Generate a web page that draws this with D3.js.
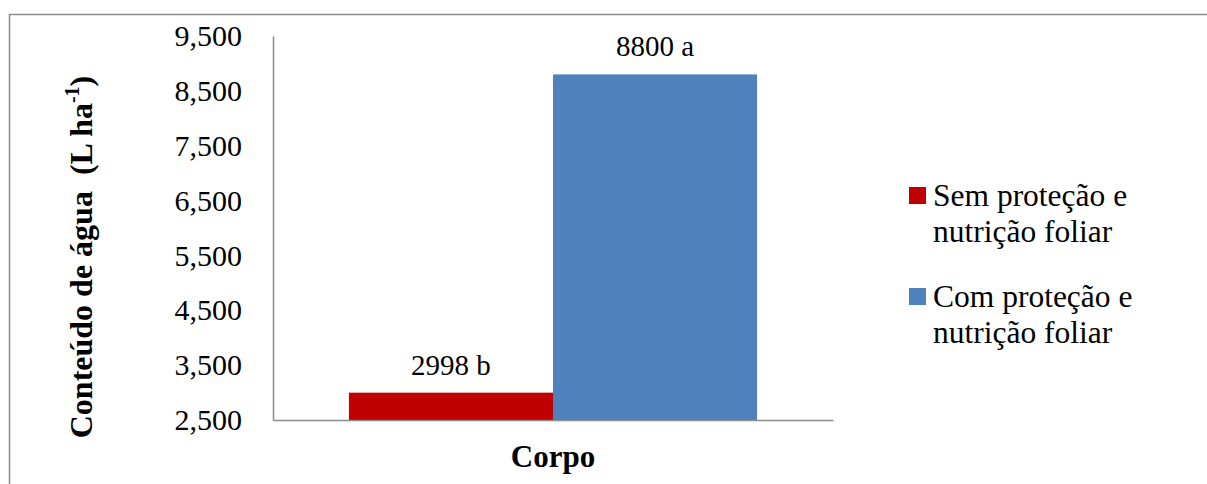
<!DOCTYPE html>
<html>
<head>
<meta charset="utf-8">
<script src="https://cdn.jsdelivr.net/npm/d3@7"></script>
<style>
  html, body { margin: 0; padding: 0; background: #fff; }
  svg { display: block; }
</style>
</head>
<body>
<svg id="chart" width="1207" height="484" font-family="'Liberation Serif', 'Times New Roman', serif"></svg>
<script>
// Water content by treatment (L ha-1)
const categories = ["Corpo"];
const seriesNames = ["Sem proteção e nutrição foliar", "Com proteção e nutrição foliar"];
const seriesLegendLines = [["Sem proteção e", "nutrição foliar"], ["Com proteção e", "nutrição foliar"]];
const seriesValues = [2998, 8800];
const seriesLetters = ["b", "a"];
const seriesColors = ["#C00000", "#4F81BD"];
const yTicks = [2500, 3500, 4500, 5500, 6500, 7500, 8500, 9500];
const yTitle = "Conteúdo de água  (L ha";
const yTitleSup = "-1";
const xTitle = "Corpo";

const FONT = "Liberation Serif";
const svg = d3.select("#chart");

// outer frame
svg.append("rect")
  .attr("x", 9.5).attr("y", 14.5)
  .attr("width", 1400).attr("height", 600)
  .attr("fill", "none").attr("stroke", "#8c8c8c").attr("stroke-width", 1.5);

const plot = { left: 273, right: 833, top: 36, bottom: 420 };

const y = d3.scaleLinear()
  .domain([yTicks[0], yTicks[yTicks.length - 1]])
  .range([plot.bottom, plot.top]);

const x0 = d3.scaleBand()
  .domain(categories)
  .range([plot.left, plot.right])
  .paddingInner(0).paddingOuter(0.186);

const x1 = d3.scaleBand()
  .domain(d3.range(seriesValues.length))
  .range([0, x0.bandwidth()])
  .padding(0);

// bars and value labels
const g = svg.append("g");
categories.forEach(cat => {
  g.selectAll("rect.bar")
    .data(seriesValues)
    .join("rect")
    .attr("class", "bar")
    .attr("x", (d, i) => x0(cat) + x1(i))
    .attr("width", x1.bandwidth())
    .attr("y", d => y(d))
    .attr("height", d => plot.bottom - y(d))
    .attr("fill", (d, i) => seriesColors[i]);

  g.selectAll("text.val")
    .data(seriesValues)
    .join("text")
    .attr("class", "val")
    .attr("x", (d, i) => x0(cat) + x1(i) + x1.bandwidth() / 2)
    .attr("y", d => y(d) - 18)
    .attr("text-anchor", "middle")
    .attr("font-family", FONT)
    .attr("font-size", 29)
    .attr("fill", "#000")
    .text((d, i) => d + " " + seriesLetters[i]);
});

// y axis
const yAxis = d3.axisLeft(y)
  .tickValues(yTicks)
  .tickSize(0)
  .tickPadding(31)
  .tickFormat(d3.format(","));
const ya = svg.append("g")
  .attr("transform", `translate(${plot.left},0)`)
  .call(yAxis)
  .attr("font-family", FONT);
ya.select(".domain").attr("stroke", "#8c8c8c").attr("stroke-width", 1.5);
ya.selectAll("text")
  .attr("font-family", FONT)
  .attr("font-size", 30)
  .attr("fill", "#000");

// x axis
const xAxis = d3.axisBottom(d3.scaleLinear().range([plot.left, plot.right])).ticks(0).tickSize(0);
const xa = svg.append("g")
  .attr("transform", `translate(0,${plot.bottom})`)
  .call(xAxis);
xa.selectAll(".tick").remove();
xa.select(".domain").attr("stroke", "#8c8c8c").attr("stroke-width", 1.5);

// axis titles
svg.append("text")
  .attr("x", x0(categories[0]) + x0.bandwidth() / 2)
  .attr("y", 467)
  .attr("text-anchor", "middle")
  .attr("font-family", FONT)
  .attr("font-size", 31)
  .attr("font-weight", "bold")
  .attr("fill", "#000")
  .text(xTitle);

const yt = svg.append("text")
  .attr("transform", "translate(92,257) rotate(-90)")
  .attr("text-anchor", "middle")
  .attr("font-family", FONT)
  .attr("font-size", 32)
  .attr("font-weight", "bold")
  .attr("fill", "#000")
  .style("white-space", "pre");
yt.append("tspan").text(yTitle);
yt.append("tspan").attr("font-size", 20).attr("dy", -13).text(yTitleSup);
yt.append("tspan").attr("dy", 13).text(")");

// legend
const legend = svg.append("g");
seriesNames.forEach((name, i) => {
  const top = [187, 288][i];
  legend.append("rect")
    .attr("x", 909).attr("y", top)
    .attr("width", 17).attr("height", 17)
    .attr("fill", seriesColors[i]);
  const t = legend.append("text")
    .attr("x", 933).attr("y", top + 18.5)
    .attr("font-family", FONT)
    .attr("font-size", 31.5)
    .attr("fill", "#000");
  seriesLegendLines[i].forEach((line, j) => {
    t.append("tspan").attr("x", 933).attr("dy", j === 0 ? 0 : 36).text(line);
  });
});
</script>
</body>
</html>
